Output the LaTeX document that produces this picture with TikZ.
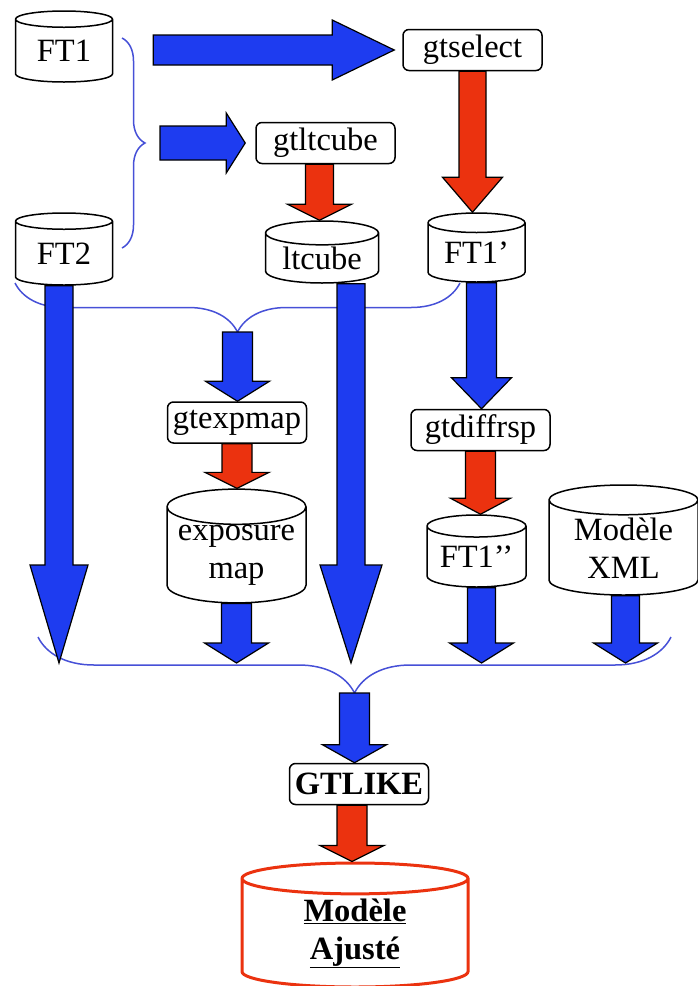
\documentclass[tikz,border=0pt]{standalone}
\usepackage{fontspec}
\setmainfont{Liberation Serif}
\usetikzlibrary{shapes.geometric,calc,decorations.pathreplacing}

\definecolor{bleu}{RGB}{30,60,240}
\definecolor{rouge}{RGB}{235,50,15}
\definecolor{accolade}{RGB}{70,80,215}

% fleche epaisse vers le bas : couleur, depart, arrivee, demi-corps, demi-tete, tete
\newcommand{\flechebas}[6]{%
  \filldraw[fill=#1,draw=black,line width=1.2pt,line join=miter] let \p1=(#2), \p2=(#3) in
    (\x1-#4,\y1) -- (\x1-#4,\y2+#6) -- (\x1-#5,\y2+#6) -- (\x1,\y2)
    -- (\x1+#5,\y2+#6) -- (\x1+#4,\y2+#6) -- (\x1+#4,\y1) -- cycle;}
% fleche epaisse vers la droite
\newcommand{\flechedroite}[6]{%
  \filldraw[fill=#1,draw=black,line width=1.2pt,line join=miter] let \p1=(#2), \p2=(#3) in
    (\x1,\y2+#4) -- (\x2-#6,\y2+#4) -- (\x2-#6,\y2+#5) -- (\x2,\y2)
    -- (\x2-#6,\y2-#5) -- (\x2-#6,\y2-#4) -- (\x1,\y2-#4) -- cycle;}

\begin{document}
\begin{tikzpicture}[x=1pt,y=-1pt,font=\fontsize{32.5}{38}\selectfont,
  boite/.style={draw,rounded corners=6pt,fill=white,line width=1.5pt,
    minimum width=139pt,minimum height=41pt,inner sep=0pt},
  base/.style={cylinder,shape border rotate=90,draw,fill=white,line width=1.5pt,
    aspect=0.3,inner sep=0pt,align=center,anchor=shape center},
  acc/.style={draw=accolade,line width=1.5pt,decorate,decoration={brace,amplitude=#1}}]
	\useasboundingbox (0,0) rectangle (698,986);
	% fichiers et outils
	\node[base,minimum width=97pt,minimum height=71pt] (FT1) at (64,46.5) {FT1};
	\node[base,minimum width=97pt,minimum height=72pt] (FT2) at (64,249) {FT2};
	\node[boite] (gtselect) at (472.5,50) {gtselect};
	\node[boite] (gtltcube) at (325.5,143) {gtltcube};
	\node[base,minimum width=113pt,minimum height=62pt] (ltcube) at (322,252) {ltcube};
	\node[base,minimum width=97pt,minimum height=69pt] (FT1p) at (476.5,247.5) {FT1’};
	\node[boite] (gtexpmap) at (237,422.5) {gtexpmap};
	\node[base,minimum width=139pt,minimum height=96pt] (expo) at (236.5,546) {exposure\\map};
	\node[boite] (gtdiffrsp) at (480.5,430) {gtdiffrsp};
	\node[base,minimum width=99pt,minimum height=72pt] (FT1pp) at (476.5,551) {FT1’’};
	\node[base,minimum width=149pt,minimum height=110pt] (xml) at (623.5,540) {Modèle\\XML};
	\node[boite,font=\fontsize{32.5}{38}\selectfont\bfseries] (gtlike) at (359,784) {GTLIKE};
	\node[base,draw=rouge,line width=3pt,minimum width=226pt,minimum height=124pt] (ajuste) at (355,925)
		{\textbf{\underline{Modèle}}\\\textbf{\underline{Ajusté}}};
	% accolades
	\coordinate (pointe1) at (145,143);
	\coordinate (pointe2) at (237.5,332);
	\coordinate (pointe3) at (354.5,693);
	\coordinate (fin) at (354.5,663);
	\draw[acc=23pt] (122,38) -- (122,248);
	\draw[acc=49pt] (460,283) -- (15,283);
	\draw[acc=56pt] (671,637) -- (38,637);
	% fleches bleues
	\flechedroite{bleu}{[xshift=40pt]FT1.east}{[xshift=-8pt]gtselect.west}{15pt}{30pt}{62pt}
	\flechedroite{bleu}{[xshift=15pt]pointe1}{[xshift=-10pt]gtltcube.west}{17pt}{30pt}{19pt}
	\flechebas{bleu}{pointe2}{gtexpmap.north}{15pt}{32pt}{20pt}
	\flechebas{bleu}{expo.south}{fin}{15pt}{32pt}{20pt}
	\flechebas{bleu}{[xshift=-5pt]FT2.south}{fin}{14pt}{29pt}{98pt}
	\flechebas{bleu}{[xshift=29pt]ltcube.south}{fin}{14pt}{31pt}{98pt}
	\flechebas{bleu}{[xshift=5pt]FT1p.south}{gtdiffrsp.north}{15pt}{30pt}{31pt}
	\flechebas{bleu}{[xshift=5pt]FT1pp.south}{fin}{14pt}{32pt}{20pt}
	\flechebas{bleu}{[xshift=2pt]xml.south}{fin}{14pt}{32pt}{20pt}
	\flechebas{bleu}{pointe3}{gtlike.north}{15pt}{32pt}{18pt}
	% fleches rouges
	\flechebas{rouge}{gtselect.south}{FT1p.north}{13.5pt}{30pt}{35pt}
	\flechebas{rouge}{[xshift=-6pt]gtltcube.south}{ltcube.north}{14pt}{32pt}{16pt}
	\flechebas{rouge}{gtexpmap.south}{expo.north}{15pt}{32pt}{16pt}
	\flechebas{rouge}{gtdiffrsp.south}{FT1pp.north}{15pt}{30pt}{16pt}
	\flechebas{rouge}{[xshift=-7pt]gtlike.south}{ajuste.north}{15pt}{32pt}{16pt}
\end{tikzpicture}
\end{document}
